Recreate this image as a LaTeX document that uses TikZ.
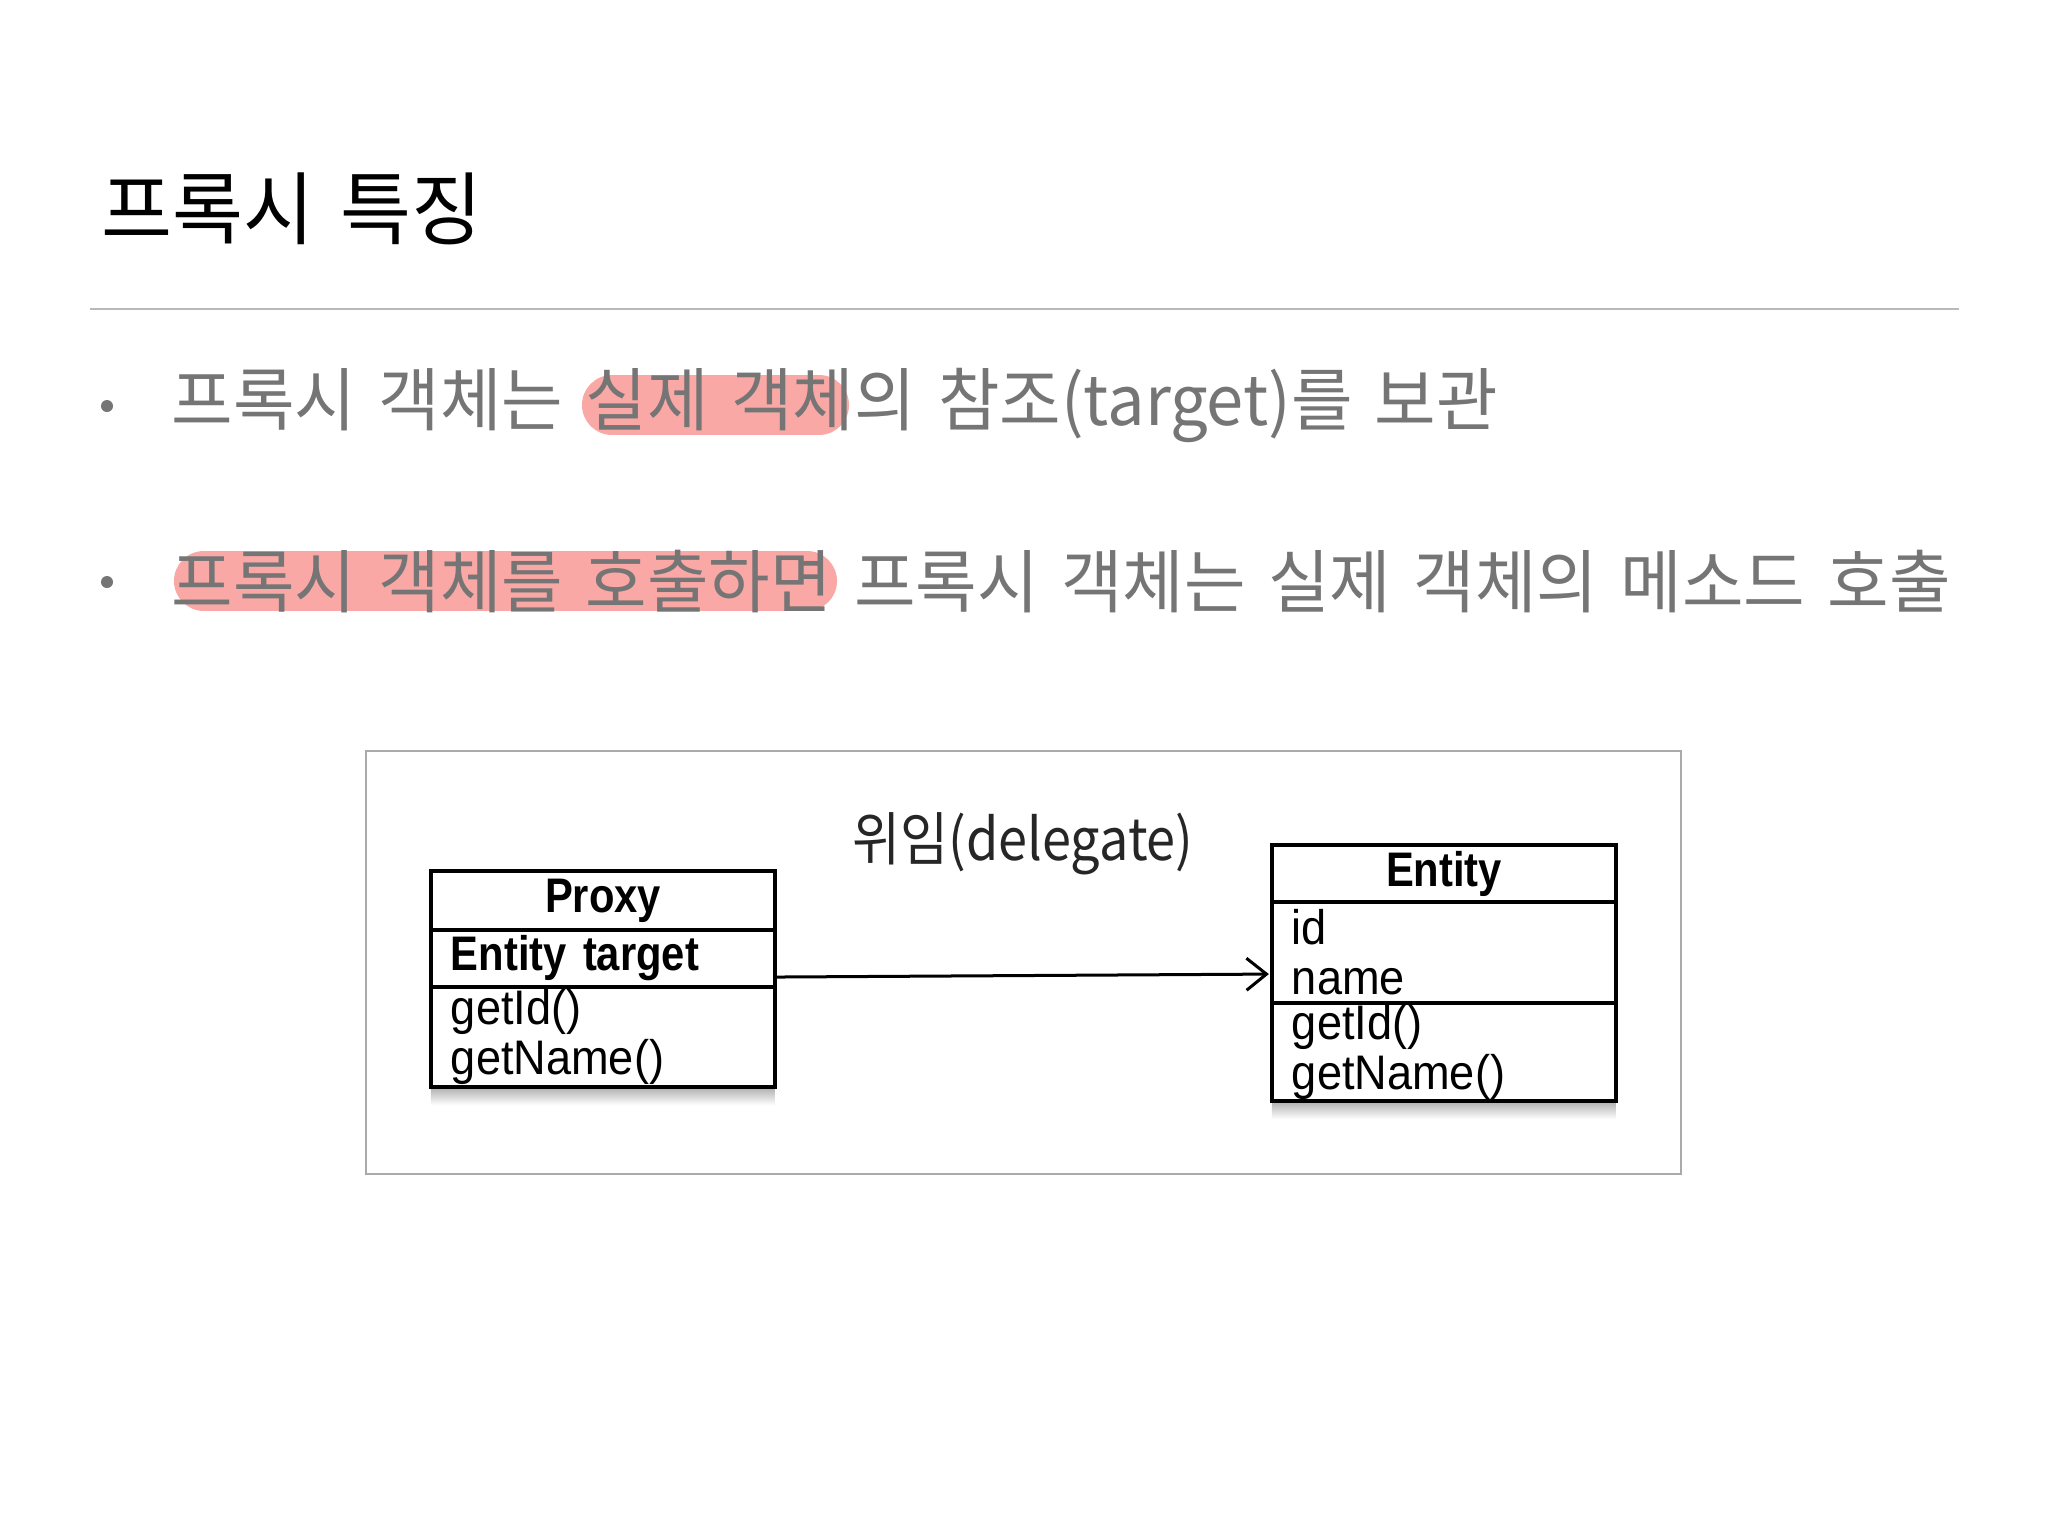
\documentclass[tikz,border=0pt]{standalone}
\usepackage{fontspec}
\usetikzlibrary{arrows.meta,positioning}
\newfontfamily\krfont{Noto Sans CJK KR}[FakeStretch=0.97,WordSpace=1.5]
\newfontfamily\krlabelfont{Noto Sans CJK KR}[FakeStretch=0.9]
\newfontfamily\umlfont{Liberation Sans}[FakeStretch=0.93,BoldFeatures={FakeStretch=0.86}]
\definecolor{txtgray}{RGB}{117,117,117}
\definecolor{rulegray}{RGB}{185,185,185}
\definecolor{framegray}{RGB}{170,170,170}
\definecolor{hlpink}{RGB}{250,168,165}

\begin{document}
\begin{tikzpicture}[
        x=0.01cm, y=-0.01cm,
        ttl/.style={font=\krfont\fontsize{22.6}{26}\selectfont, anchor=west, inner sep=0pt},
        bullettext/.style={font=\krfont\fontsize{19.6}{23}\selectfont, text=txtgray, anchor=west, inner sep=0pt},
        dot/.style={circle, fill=txtgray, inner sep=0pt, minimum size=0.12cm},
        hl/.style={line width=0.6cm, line cap=round, draw=hlpink},
        umlhead/.style={draw, line width=0.04cm, fill=white, outer sep=0pt, minimum width=3.44cm, inner sep=0pt, font=\umlfont\bfseries\fontsize{13.8}{14.2}\selectfont},
        umlpart/.style={draw, line width=0.04cm, fill=white, outer sep=0pt, text width=3.04cm, inner xsep=0.2cm, inner ysep=0pt, align=left, font=\umlfont\fontsize{13.8}{14.2}\selectfont},
        umlshadow/.style={top color=black!28, bottom color=white, draw=none},
    ]
        \useasboundingbox (0,0) rectangle (2048,1536);
        \fill[white] (0,0) rectangle (2048,1536);

        % Title and rule
        \node[ttl] (title) at (101,209) {프록시 특징};
        \draw[rulegray, line width=0.02cm] (90,309) -- (1959,309);

        % Highlights (behind the text)
        \draw[hl] (612,405) -- (819,405);
        \draw[hl] (204,581) -- (807,581);

        % Bullets
        \node[dot] (dotA) at (107,406) {};
        \node[bullettext] (lineA) at (171,405) {프록시 객체는 실제 객체의 참조(target)를 보관};
        \node[dot] (dotB) at (107,582) {};
        \node[bullettext] (lineB) at (171,582) {프록시 객체를 호출하면 프록시 객체는 실제 객체의 메소드 호출};

        % Diagram frame
        \draw[framegray, line width=0.015cm] (366,751) rectangle (1681,1174);

        % Proxy class
        \node[umlhead, minimum height=0.59cm] (proxyhead) at (603,900.5) {Proxy};
        \node[umlpart, minimum height=0.57cm, below=0pt of proxyhead] (proxyattr) {\textbf{Entity target}};
        \node[umlpart, minimum height=1.0cm, below=0pt of proxyattr] (proxyops) {getId()\\getName()};
        \shade[umlshadow] ([yshift=-0.02cm]proxyops.south west) rectangle ++(344,16);

        % Entity class
        \node[umlhead, minimum height=0.57cm] (entityhead) at (1444,873.5) {Entity};
        \node[umlpart, minimum height=1.01cm, below=0pt of entityhead] (entityattr) {id\\name};
        \node[umlpart, minimum height=0.98cm, below=0pt of entityattr] (entityops) {getId()\\getName()};
        \shade[umlshadow] ([yshift=-0.02cm]entityops.south west) rectangle ++(344,16);

        % Delegation
        \draw[line width=0.03cm, -{Straight Barb[length=0.2cm, width=0.32cm, line width=0.03cm]}, shorten >=0.03cm]
            ([yshift=0.1cm]proxyattr.south east) -- ([yshift=0.29cm]entityattr.south west);
        \node[font=\krlabelfont\fontsize{16.5}{19}\selectfont, text=black!85, inner sep=0pt] (delegatelabel) at (1023,844) {위임(delegate)};
    \end{tikzpicture}
\end{document}
